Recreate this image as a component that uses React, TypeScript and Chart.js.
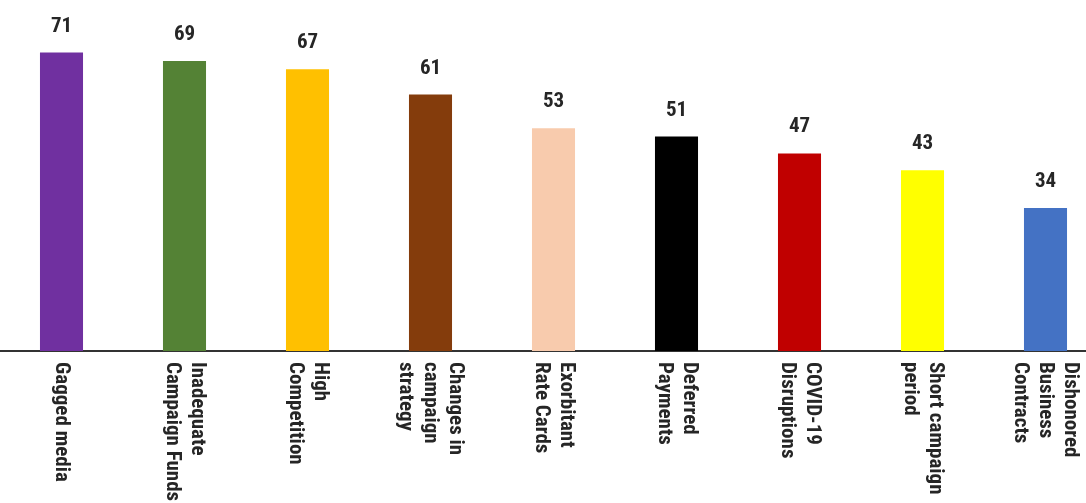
import React, { useEffect, useRef } from "react";
import { Chart, registerables, CategoryScale } from "chart.js";

Chart.register(...registerables);

class ClockwiseCategoryScale extends (CategoryScale as any) {
  static id = "cwcategory";
  _getXAxisLabelAlignment() {
    return "left";
  }
  _computeLabelItems(chartArea: any) {
    const items = super._computeLabelItems(chartArea);
    items.forEach((it: any) => {
      const n = Array.isArray(it.label) ? it.label.length : 1;
      it.options.translation[0] += ((n - 1) * it.font.lineHeight) / 2;
    });
    return items;
  }
}
Chart.register(ClockwiseCategoryScale as any);

const categories: string[][] = [
  ["Gagged media"],
  ["Inadequate", "Campaign Funds"],
  ["High", "Competition"],
  ["Changes in", "campaign", "strategy"],
  ["Exorbitant", "Rate Cards"],
  ["Deferred", "Payments"],
  ["COVID-19", "Disruptions"],
  ["Short campaign", "period"],
  ["Dishonored", "Business", "Contracts"],
];

const values: number[] = [71, 69, 67, 61, 53, 51, 47, 43, 34];

const barColors: string[] = [
  "#7030A0",
  "#548235",
  "#FFC000",
  "#843C0C",
  "#F8CBAD",
  "#000000",
  "#C00000",
  "#FFFF00",
  "#4472C4",
];

const FONT_FAMILY =
  '"Liberation Sans Narrow", "Roboto Condensed", "DejaVu Sans Condensed", Arial, sans-serif';

const valueLabelPlugin = {
  id: "valueLabels",
  afterDatasetsDraw(chart: any) {
    const ctx = chart.ctx;
    const meta = chart.getDatasetMeta(0);
    ctx.save();
    ctx.font = `bold 21px ${FONT_FAMILY}`;
    ctx.fillStyle = "#262626";
    ctx.textAlign = "center";
    ctx.textBaseline = "alphabetic";
    meta.data.forEach((el: any, i: number) => {
      ctx.fillText(String(values[i]), el.x, el.y - 21);
    });
    ctx.restore();
  },
};

export default function App() {
  const ref = useRef<HTMLCanvasElement>(null);
  useEffect(() => {
    if (!ref.current) return;
    const chart = new Chart(ref.current, {
      type: "bar",
      data: {
        labels: categories,
        datasets: [
          {
            data: values,
            backgroundColor: barColors,
            barPercentage: 0.35,
            categoryPercentage: 1,
          },
        ],
      },
      options: {
        responsive: false,
        animation: false,
        layout: { padding: 0 },
        plugins: {
          legend: { display: false },
          tooltip: { enabled: false },
        },
        scales: {
          x: {
            type: "cwcategory" as any,
            grid: { display: false, drawTicks: false },
            border: { display: true, color: "#333333", width: 2 },
            ticks: {
              autoSkip: false,
              minRotation: -90,
              maxRotation: -90,
              padding: 11,
              color: "#262626",
              font: { family: FONT_FAMILY, size: 21, weight: "bold", lineHeight: 1.19 },
            },
            afterFit: (scale: any) => {
              scale.height = 152;
            },
          } as any,
          y: {
            display: false,
            min: 0,
            max: 83.5,
          },
        },
      },
      plugins: [valueLabelPlugin],
    });
    return () => chart.destroy();
  }, []);
  return (
    <div
      style={{
        position: "absolute",
        left: 0,
        top: 0,
        width: 1086,
        height: 503,
        overflow: "hidden",
        background: "#ffffff",
      }}
    >
      <canvas ref={ref} width={1107} height={503} style={{ display: "block" }} />
    </div>
  );
}
